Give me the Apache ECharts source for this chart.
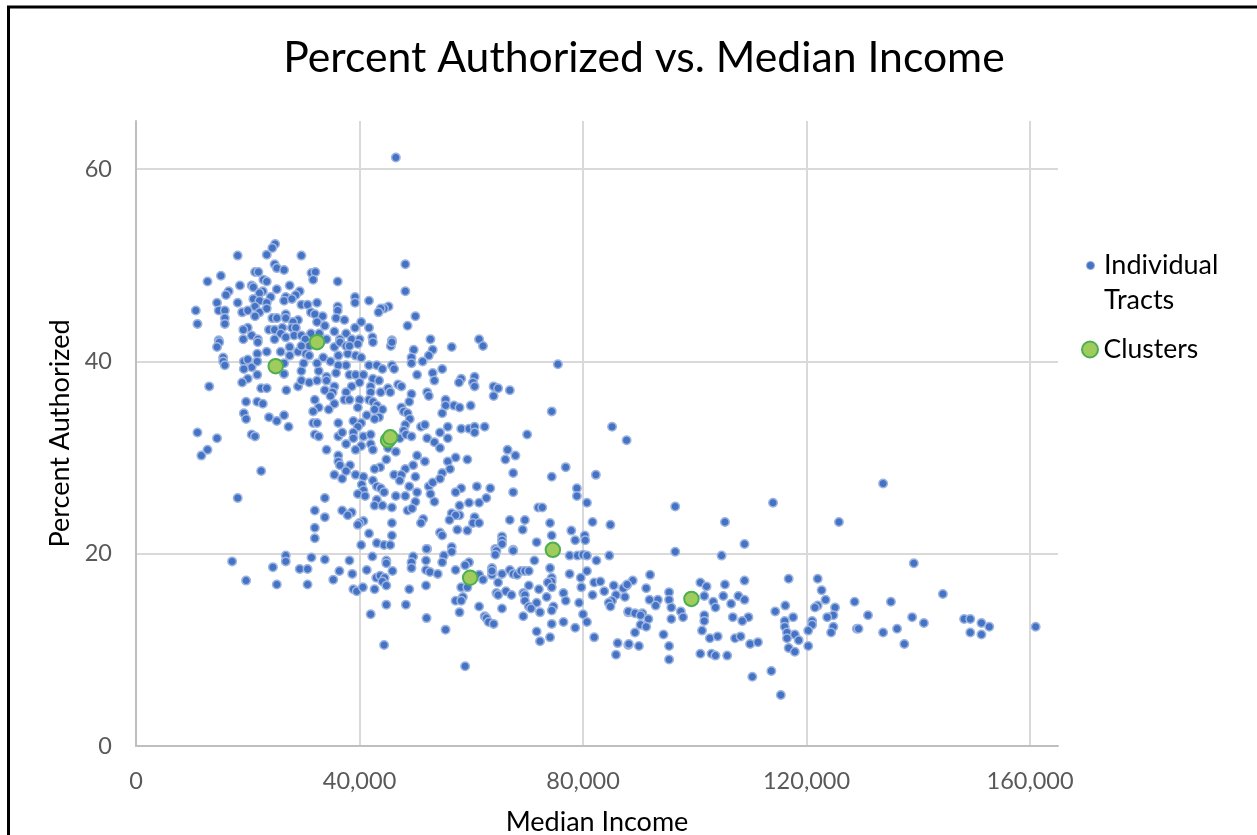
<!DOCTYPE html>
<html><head><meta charset="utf-8">
<style>html,body{margin:0;padding:0;background:#fff}#c{width:1257px;height:835px}</style>
<script src="https://cdn.jsdelivr.net/npm/echarts@6/dist/echarts.min.js"></script>
</head><body><div id="c"></div>
<script>
const chartTitle = "Percent Authorized vs. Median Income";
const xAxisName = "Median Income";
const yAxisName = "Percent Authorized";
const seriesNames = ["Individual Tracts", "Clusters"];
// [median income in thousands, percent authorized]
const clusterPoints = [[25,39.5],[32.4,42],[45.1,31.8],[45.5,32.1],[59.8,17.5],[74.6,20.4],[99.4,15.3]];
const tractPoints = [
[46.5,61.2],[24.9,52.2],[24.4,51.8],[23.4,51.1],[29.6,51],[18.2,51],[48.2,50.1],[24.8,50.1],[25.2,49.7],[26.5,49.5],[15.2,48.9],[21.3,49.3],[21.9,49.3],[31.4,49.2],[32.1,49.3],[31.7,48.5],[12.8,48.3],[22.8,48.5],[23.4,48.3],[36.1,48.3],[18.6,47.9],[20.7,47.9],[21,47.7],[27.5,47.9],[48.2,47.3],[25.2,47.5],[16.6,47.3],[16.1,46.9],[22.7,47.3],[29.3,47.3],[24.1,46.7],[22.1,47.1],[28.6,46.9],[26.8,46.7],[39.2,46.7],[39.2,46.1],[21,46.5],[22.1,46.3],[26.5,46.3],[27.9,46.5],[41.7,46.3],[14.5,46.1],[18.2,46.1],[23.4,46.1],[29.6,45.9],[30.7,45.9],[32.4,46.1],[21.3,45.7],[36.1,45.7],[45.2,45.7],[44.4,45.5],[43.8,45.5],[43.4,45.1],[10.7,45.3],[14.8,45.3],[15.9,45.3],[19,45.1],[20,45.3],[22.1,45.1],[23.4,45.5],[36.1,45.3],[21.3,44.7],[31.3,45.1],[32,44.9],[26.8,44.9],[33.4,44.7],[50,44.7],[15.9,44.5],[24.4,44.5],[25.2,44.5],[26.8,44.5],[29,44.3],[35.8,44.5],[37.3,44.3],[28.1,44.1],[32.4,44.1],[11,43.9],[15.9,43.9],[40.3,44.1],[48.6,43.7],[33.8,43.7],[39.2,43.5],[41.7,43.5],[20,43.5],[19.2,43.3],[23.8,43.3],[24.8,43.3],[26.2,43.5],[27.9,43.5],[28.6,43.5],[35.5,43.1],[37.6,42.9],[25.9,42.9],[20.7,42.7],[31.3,42.9],[42.3,42.5],[52.7,42.3],[45.8,42.2],[14.8,42.2],[19.2,42.3],[21.8,42.3],[24.8,42.3],[26.8,42.5],[28.3,42.7],[29.6,42.7],[30.3,42.3],[32.8,42.9],[34.1,42.3],[36.5,42.3],[38.6,42.3],[40,42.3],
[14.9,42],[14.5,41.5],[21.8,42],[21.7,40.8],[23.4,41],[25.9,41],[27.5,41.5],[29,41],[27.5,40.6],[31,41.6],[29.6,41.6],[30.4,40.8],[31,40.6],[33.5,40.4],[35.5,41.5],[36.2,40.6],[37.9,40.8],[36.5,42],[37.6,41.6],[39.7,41.8],[39.3,40.6],[40.3,40.4],[38.2,41.6],[42.4,42],[45.6,41.6],[45.8,42],[49.7,41.2],[53.1,41.2],[52.4,40.6],[49.3,40.4],[49.3,39.8],[51.3,40],[15.6,40.4],[15.6,40],[15.9,39.6],[19.3,40],[20,40.2],[20.7,39.4],[19.3,39.2],[21.7,40],[26.5,39.8],[26.5,38.7],[21.7,38.6],[20,38.2],[19,37.8],[13.1,37.4],[22.4,37.2],[23.4,37.2],[26.9,37],[29,37.4],[29.6,39],[29.6,38],[31,37.8],[32.4,38],[32.7,39],[30,39.8],[32.4,39.8],[34.8,40],[37.6,39.6],[36.2,39.6],[41.7,39.6],[43.1,39.6],[44.1,39.2],[45.8,39.6],[46.2,39.2],[35.8,38.8],[38.2,38.6],[39.3,38.6],[40.7,38.6],[34.1,38.4],[34.1,38],[42.4,38.2],[43.5,38],[38.6,37.4],[40,37.8],[33.8,37],[35.5,37.4],[35.2,36.8],[37.6,36.8],[42,37.4],[42,36.8],[43.8,36.8],[45.1,37.2],[46.9,37.6],[47.5,37.4],[49.3,36.6],[50.3,38.6],[53.1,38.8],[53.4,38],[52.1,36.8],[52.4,36.4],[45.5,36.8],[48.9,35.8],[32,36],[34.8,36.4],[37.3,36],[38.2,36],[40,36],[41.7,36],[42.4,35.8],[43.1,35.4],[35.5,35.6],[34.5,35],[32.7,35.2],[31.7,34.8],[39.7,35.2],[44.1,35],[42.7,35],[47.5,35.2],[47.9,34.8],[48.6,34.6],[19.7,35.8],[21.7,35.8],[22.7,35.6],[19.3,34.6],[19.7,34],[23.8,34.2],[25.2,33.8],[26.5,34.4],[27.3,33.2],[41.3,34.4],[43.5,34.2],[42.7,34],[49,34],[31.7,33.6],[32.4,33.6],[36.2,33.6],[38.9,33.8],[40.3,33.6],[39.7,33.2],[48.2,33.4],[51,33.2],[51.7,33.4],[11,32.6],[14.5,32],[20.7,32.4],[21.3,32.2],[32,32.4],[32.7,32.2],[36.2,32.2],[36.9,32.6],[38.9,32.6],[38.9,32],[40.7,32.2],[42,32.4],[45.1,31.6],[47.2,32],[47.9,32.8],[48.3,32.4],[49.3,32.2],[52.1,32],[53.4,31.6],[37.6,31.4],[40.3,31.2],[42,31.4],[12.8,30.8],[11.7,30.2],[34.1,30.8],[39.3,30.8],[42.4,30.8],[45.1,31],[46.5,30.6],[36.2,30.2],[50.3,30.2],[36.2,29.6],[44.8,29.8],[51.7,29.6],[38.3,29.2],[36.5,29.2],[43.7,29],[42.7,28.8],[48.2,28.8],[49.6,29.2],[22.4,28.6],[37.6,28.6],[35.5,28.2],[36.9,27.8],[39.3,28.2],[40.7,28],[46.2,28.2],[47.5,28.2],[50,28],[47.2,27.6],[42.4,27.6],[40.4,27.2],[43.1,27],[43.8,26.8],[48.9,27],[52.4,27],[53.1,27.4],[40.7,26.6],[44.4,26.4],[50.3,26.4],[52.7,26.2],[39.7,26.2],[41,26],[46.5,26],[48.2,26],[18.2,25.8],[33.8,25.8],[43.1,25.6],[50,25.4],[53.4,25.4],[42.7,25],[44.1,25],[45.8,24.8],[48.6,24.5],[49.4,24.7],[32,24.5],[36.9,24.5],[38.6,24.3],[37.9,24],[33.8,23.8],[51.4,23.6],[51,23.2],[40.7,23.4],[40,23.2],[39.7,23],[45.8,23.2],[32,22.7],[41.7,22.1],[45.8,21.9],[32,21.6],[43.1,21.1],[40.3,20.9],[44.4,20.9],[45.5,20.9],[52.1,20.5],
[17.2,19.2],[19.7,17.2],[24.5,18.6],[25.2,16.8],[26.8,19.8],[26.8,19.2],[29.3,18.4],[30.7,18.4],[30.7,16.8],[31.4,19.6],[33.8,19.4],
[61.4,42.3],[62.1,41.6],[56.5,41.5],[54.8,39.2],[58.2,38.2],[57.8,37.8],[60.6,38.4],[60.3,37.8],[60.6,37.4],[64,37.4],[64.8,37.2],[66.9,37],[64,36.4],[75.5,39.7],[55.4,36],[55.4,35.4],[56.9,35.4],[57.9,35.2],[59.9,35.4],[54.8,34.6],[74.4,34.8],[55.8,33.2],[58.2,33],[59.6,33],[60.6,33.2],[60.6,32.6],[62.4,33.2],[54.4,32.6],[55.8,32],[70,32.4],[85.2,33.2],[87.8,31.8],[54.4,31],[66.5,30.8],[67.9,30.2],[66.1,29.8],[57.2,30],[59.3,29.8],[55.8,29.6],[56.2,28.8],[54.8,28.4],[54.4,27.8],[67.5,28.4],[74.4,28],[76.9,29],[82.3,28.2],[78.9,26.8],[78.9,26],[61,27],[63.4,26.8],[58.2,26.8],[57.2,26.4],[67.5,26.4],[62.7,25.8],[61.4,25.3],[59.6,25.3],[57.9,25],[80.7,25.3],[72,24.8],[72.7,24.8],[56.5,24.2],[57.9,24],[57.2,24],[60.6,23.8],[56.1,23.5],[60.3,23.2],[61.4,23.2],[66.9,23.5],[69.6,23.5],[74.1,23.2],[81.7,23.3],[84.9,23],[57.5,22.5],[59.3,22.4],[69.2,22.5],[74.4,21.9],[77.9,22.4],[80.3,21.9],[54.4,22.2],[54.8,21.9],[65.5,21.8],[65.5,21.4],[71.7,21.2],[78.6,21.4],[80.4,21.4],[52,20.5],[56.5,20.7],[65.5,21],[64.3,20.5],[67.5,20.4],
[49.6,19.7],[55.1,19.8],[56.5,20.2],[64.5,20.3],[64.3,19.9],[67.5,20.3],[42.3,19.7],[38.2,19.3],[44.8,19.3],[44.8,19],[49.3,19.1],[49.3,18.5],[51.9,19.3],[54.8,19.1],[59.6,19.1],[58.9,18.8],[71.3,19.3],[77.6,19.8],[79,19.8],[80,19.9],[80.7,19.8],[82.4,19.3],[84.7,19.8],[36.4,18.2],[38.7,17.9],[41.3,18.3],[45.9,18.2],[51.9,18.3],[52.6,18.1],[54,17.9],[57.2,18.3],[63.7,18.5],[63.7,17.8],[63.7,18.2],[65.5,17.9],[66.9,18.3],[67.5,17.9],[68.2,17.8],[68.9,18.2],[69.6,18.2],[70.3,18.2],[74.1,18.5],[77.6,17.9],[80.7,18.2],[79.6,17.5],[35.3,17.3],[43,17.5],[43.7,17.7],[44.5,17.5],[44.1,17.1],[44.8,16.7],[61.4,17.8],[62.1,17.3],[74.4,17.5],[74.4,17.1],[73.7,17],[74.4,16.5],[64.8,17],[70.3,16.7],[82,17],[83.1,17.1],[83.8,16.1],[85.5,16.7],[87.8,16.7],[87.2,16.4],[38.9,16.3],[39.5,16.1],[40.6,16.5],[42.7,16.3],[48.9,16.3],[51.9,16.7],[58.2,16.5],[59.3,16.5],[72.1,16.3],[79.7,16.5],[64.5,15.9],[64.8,15.7],[66.2,16.1],[67.2,15.7],[69.3,15.9],[69.6,15.7],[76.5,15.9],[81.7,15.7],[85.9,15.7],[87.5,15.5],[58.5,15.5],[57.2,15.1],[58.2,15.1],[69.6,15.1],[71.7,14.9],[73.5,15.5],[76.9,15.1],[79.3,14.9],[85.2,15.1],[84.6,14.9],[84.9,14.5],[44.8,14.7],[48.3,14.7],[61.4,14.5],[65.5,14.3],[70.3,14.5],[70.7,14.3],[74.7,14.5],[74.4,14.1],[72.3,13.9],[57.9,13.9],[69.3,13.5],[80,13.7],[88.1,13.9],[42,13.7],[52,13.3],[62.4,13.5],[62.7,13.3],[63.1,12.9],[64,12.7],[74.4,12.7],[76.5,12.9],[80.7,12.9],[78.6,12.3],[55.4,12.1],[71.7,11.9],[74.1,11.3],[72.3,10.9],[82,11.3],[44.4,10.5],[86.2,10.7],[88.1,10.5],[85.9,9.5],[58.9,8.3],
[96.5,24.9],[114,25.3],[133.7,27.3],[105.4,23.3],[125.8,23.3],[108.9,21],[96.5,20.2],[104.8,19.8],[139.2,19],[92,17.8],[88.9,17.2],[87.9,16.8],[116.8,17.4],[122,17.4],[108.9,17.2],[101,17],[102.1,16.6],[105.4,16.8],[91.3,16.4],[122.7,16.2],[95.4,16],[144.4,15.8],[101.7,15.6],[105.1,15.6],[107.8,15.6],[123.4,15.2],[95.4,15.2],[91.9,15.2],[93.4,15.2],[108.9,15.2],[103.3,15],[106.5,14.8],[128.6,15],[135.1,15],[93,14.6],[116.2,14.6],[122,14.6],[121.5,14.4],[125.1,14.4],[95.8,14.4],[103.7,14.4],[114.4,14],[97.5,14],[88.1,14],[90.6,13.8],[89.3,13.8],[90.3,13.6],[131,13.6],[124.8,13.6],[123.7,13.4],[101.7,13.6],[97.9,13.4],[91.7,13.2],[95.8,13.2],[101.7,13],[106.8,13.4],[109.6,13.4],[108.5,13],[117.6,13.4],[116.1,13],[121,13],[138.9,13.4],[148.2,13.2],[149.3,13.2],[141,12.8],[151.3,12.8],[152.7,12.4],[161,12.4],[121,12.6],[116.1,12.4],[90.3,12.6],[91.3,12.4],[124.8,12.4],[129,12.2],[129.3,12.2],[136.2,12.2],[120.3,12],[101.3,12],[89.3,11.8],[94.4,11.6],[116.5,11.8],[117.9,11.6],[124.4,11.8],[133.7,11.8],[149.3,11.8],[151.3,11.6],[102.7,11.2],[104.1,11.4],[107.2,11.2],[108.2,11.4],[116.5,11.2],[118.6,11],[88.2,10.6],[90,10.4],[95.4,10.4],[109.9,10.6],[111.3,10.8],[137.5,10.6],[120.3,10.4],[116.8,10.2],[117.9,9.8],[101,9.6],[103,9.6],[103.7,9.4],[105.8,9.4],[95.4,9],[113.7,7.8],[110.3,7.2],[115.4,5.3]
];
const toDollars = p => [p[0] * 1000, p[1]];
const FONT = 'Lato, "Open Sans", sans-serif';
const chart = echarts.init(document.getElementById('c'), null, {renderer:'canvas'});
chart.setOption({
  animation:false,
  backgroundColor:'#fff',
  title:{text:chartTitle,left:639,top:32,textAlign:'center',textStyle:{fontFamily:FONT,fontSize:42.7,fontWeight:'normal',color:'#000'}},
  grid:{left:136,right:199,top:121,bottom:89,outerBoundsMode:'none'},
  legend:[
    {left:1081,top:247,orient:'vertical',itemWidth:17,itemHeight:8,itemGap:0,
     data:[{name:seriesNames[0],icon:'circle',itemStyle:{color:'#4472c4',borderColor:'#8faadc',borderWidth:1}}],
     formatter:()=>'Individual',
     textStyle:{fontFamily:FONT,fontSize:27,color:'#000'}},
    {left:1076,top:331,orient:'vertical',itemWidth:17,itemHeight:16,itemGap:0,
     data:[{name:seriesNames[1],icon:'circle'}],
     textStyle:{fontFamily:FONT,fontSize:26.5,color:'#000'}}
  ],
  xAxis:{type:'value',min:0,max:165000,interval:40000,name:xAxisName,nameLocation:'middle',nameGap:63,
    nameTextStyle:{fontFamily:FONT,fontSize:27,color:'#000'},
    axisLine:{show:true,onZero:false,lineStyle:{color:'#bfbfbf',width:2}},axisTick:{show:false},
    axisLabel:{showMaxLabel:false,margin:23,fontFamily:FONT,fontSize:23.5,color:'#595959',
      formatter:v=>v.toLocaleString('en-US')},
    splitLine:{show:true,showMaxLine:false,showMinLine:false,lineStyle:{color:'#d9d9d9',width:2}}},
  yAxis:{type:'value',min:0,max:65,interval:20,name:yAxisName,nameLocation:'middle',nameGap:62,
    nameTextStyle:{fontFamily:FONT,fontSize:27,color:'#000'},
    axisLine:{show:true,onZero:false,lineStyle:{color:'#bfbfbf',width:2}},axisTick:{show:false},
    axisLabel:{showMaxLabel:false,margin:24,fontFamily:FONT,fontSize:23.5,color:'#595959'},
    splitLine:{show:true,showMaxLine:false,showMinLine:false,lineStyle:{color:'#d9d9d9',width:2}}},
  graphic:[
    {type:'line',silent:true,shape:{x1:8.5,y1:7,x2:8.5,y2:835},style:{stroke:'#000',lineWidth:3}},
    {type:'line',silent:true,shape:{x1:7,y1:7,x2:1257,y2:7},style:{stroke:'#000',lineWidth:3}},
    {type:'text',silent:true,x:1104,y:300,style:{text:'Tracts',x:0,y:0,verticalAlign:'middle',fontFamily:FONT,fontSize:27,fill:'#000'}}
  ],
  series:[
    {name:seriesNames[0],type:'scatter',data:tractPoints.map(toDollars),symbol:'circle',symbolSize:8.5,z:2,
     itemStyle:{color:'#4472c4',borderColor:'#9db4e0',borderWidth:1.5,opacity:1}},
    {name:seriesNames[1],type:'scatter',data:clusterPoints.map(toDollars),symbol:'circle',symbolSize:14.5,z:3,
     itemStyle:{color:'#a0cc5e',borderColor:'#4caf50',borderWidth:2,opacity:1}}
  ]
});
</script></body></html>
